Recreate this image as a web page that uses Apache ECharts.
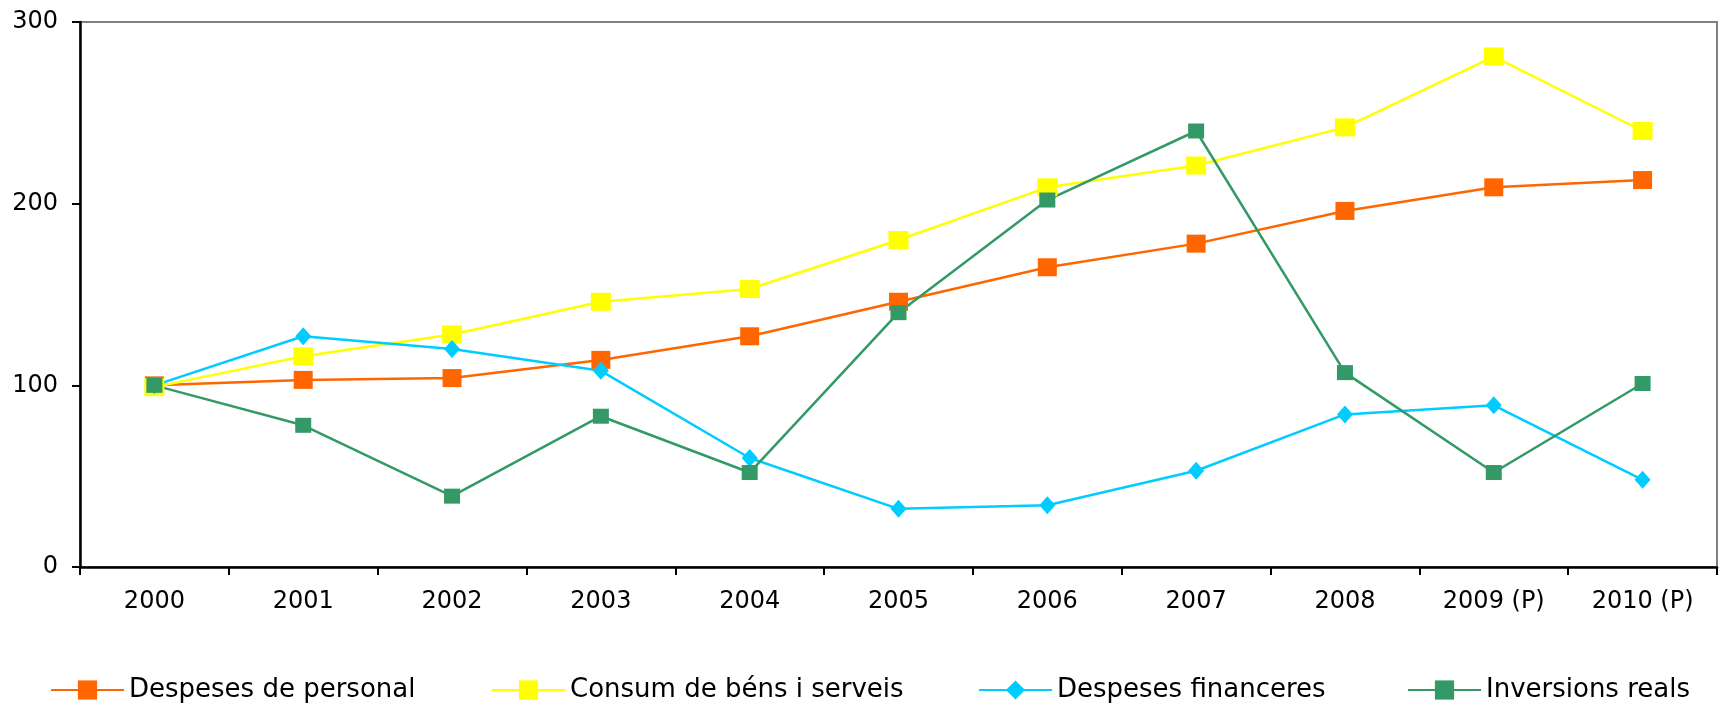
<!DOCTYPE html>
<html>
<head>
<meta charset="utf-8">
<script src="https://cdn.jsdelivr.net/npm/echarts@6/dist/echarts.min.js"></script>
<style>
  html, body { margin: 0; padding: 0; background: #fff; }
  #chart { width: 1720px; height: 703px; }
</style>
</head>
<body>
<div id="chart"></div>
<script>
const years = ['2000', '2001', '2002', '2003', '2004', '2005', '2006', '2007', '2008', '2009 (P)', '2010 (P)']

// valors índex (2000 = 100) llegits del gràfic
const personal = [100, 103, 104, 114, 127, 146, 165, 178, 196, 209, 213]
const consum = [99, 116, 128, 146, 153, 180, 209, 221, 242, 281, 240]
const financeres = [100, 127, 120, 108, 60, 32, 34, 53, 84, 89, 48]
const inversions = [100, 78, 39, 83, 52, 140, 202, 240, 107, 52, 101]

const font = 'DejaVu Sans'

const chart = echarts.init(document.getElementById('chart'))

const makeLine = (name, data, color, symbol, size) => ({
  name,
  type: 'line',
  data,
  symbol,
  symbolSize: size,
  showAllSymbol: true,
  lineStyle: { color, width: 2.5 },
  itemStyle: { color, borderWidth: 0 },
  animation: false
})

const legendItem = (name, left) => ({
  data: [name],
  left,
  top: 672,
  itemWidth: 73,
  itemHeight: 24,
  itemGap: 0,
  textStyle: { fontFamily: font, fontSize: 26, color: '#000' }
})

chart.setOption({
  backgroundColor: '#fff',
  animation: false,
  grid: {
    left: 80,
    right: 3,
    top: 22,
    bottom: 136,
    show: true,
    borderColor: '#808080',
    borderWidth: 2
  },
  legend: [
    legendItem('Despeses de personal', 45),
    legendItem('Consum de béns i serveis', 486),
    legendItem('Despeses financeres', 973),
    legendItem('Inversions reals', 1402)
  ],
  xAxis: {
    type: 'category',
    data: years,
    boundaryGap: true,
    axisLine: { lineStyle: { color: '#000', width: 2.5 } },
    axisTick: { show: true, length: 8, lineStyle: { color: '#000', width: 2 } },
    axisLabel: { fontFamily: font, fontSize: 24, color: '#000', margin: 23 },
    splitLine: { show: false }
  },
  yAxis: {
    type: 'value',
    min: 0,
    max: 300,
    interval: 100,
    axisLine: { show: true, lineStyle: { color: '#000', width: 2.5 } },
    axisTick: { show: true, length: 8, lineStyle: { color: '#000', width: 2 } },
    axisLabel: { fontFamily: font, fontSize: 24, color: '#000', margin: 22 },
    splitLine: { show: false }
  },
  series: [
    makeLine('Despeses de personal', personal, '#FF6600', 'rect', [19, 18]),
    makeLine('Consum de béns i serveis', consum, '#FFFF00', 'rect', [20, 18]),
    makeLine('Despeses financeres', financeres, '#00CCFF', 'diamond', [16, 18]),
    makeLine('Inversions reals', inversions, '#339966', 'rect', [16, 15])
  ]
})
</script>
</body>
</html>
